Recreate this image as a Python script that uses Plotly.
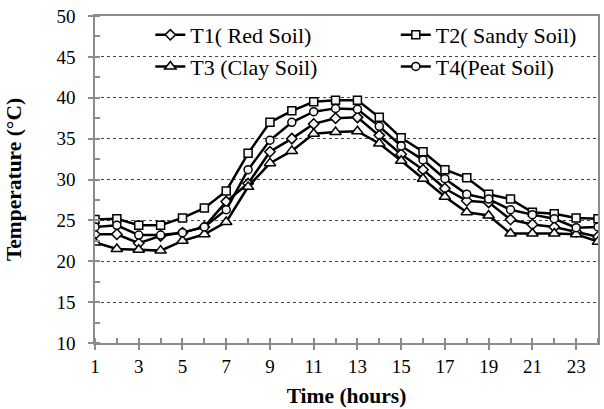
import plotly.graph_objects as go

hours = list(range(1, 25))
t1_red = [23.3, 23.3, 22.2, 23.1, 23.5, 24.2, 27.3, 29.5, 33.4, 35.0, 36.8, 37.5,
          37.6, 35.4, 33.1, 31.2, 28.9, 27.4, 27.2, 25.1, 24.5, 24.2, 23.6, 23.0]
t2_sandy = [25.1, 25.2, 24.4, 24.4, 25.3, 26.5, 28.6, 33.2, 37.0, 38.4, 39.5, 39.7,
            39.7, 37.6, 35.1, 33.4, 31.2, 30.2, 28.2, 27.6, 26.0, 25.8, 25.3, 25.2]
t3_clay = [22.3, 21.5, 21.4, 21.3, 22.5, 23.3, 24.8, 29.1, 32.0, 33.5, 35.6, 35.8,
           35.9, 34.4, 32.3, 30.1, 27.9, 26.0, 25.6, 23.4, 23.4, 23.4, 23.3, 22.4]
t4_peat = [24.2, 24.4, 23.2, 23.2, 23.5, 24.2, 26.3, 31.2, 34.8, 37.0, 38.3, 38.7,
           38.6, 36.5, 34.1, 32.4, 30.1, 28.2, 27.6, 26.3, 25.7, 25.2, 24.1, 24.2]

names = ["T1( Red Soil)", "T2( Sandy Soil)", "T3 (Clay Soil)", "T4(Peat Soil)"]
symbols = ["diamond", "square", "triangle-up", "circle"]
sizes = [8, 8, 10, 8]
legend_ids = ["legend", "legend2", "legend", "legend2"]
series = [t1_red, t2_sandy, t3_clay, t4_peat]

FONT = "Liberation Serif, Times New Roman, serif"

fig = go.Figure()
for name, sym, sz, lg, ys in zip(names, symbols, sizes, legend_ids, series):
    fig.add_trace(go.Scatter(
        x=hours, y=ys, name=name, mode="lines+markers", legend=lg,
        line=dict(color="black", width=2.5),
        marker=dict(symbol=sym, size=sz, color="#f4f4f4",
                    line=dict(color="black", width=1.5)),
    ))

legend_common = dict(
    orientation="v", yanchor="top", xanchor="left",
    bgcolor="rgba(0,0,0,0)", borderwidth=0,
    font=dict(family=FONT, size=22, color="black"),
    tracegroupgap=0,
)

fig.update_layout(
    width=604, height=409,
    margin=dict(l=95, r=4, t=16, b=66),
    paper_bgcolor="white", plot_bgcolor="white",
    font=dict(family=FONT, size=19, color="black"),
    showlegend=True,
    legend=dict(x=0.11, y=1.006, **legend_common),
    legend2=dict(x=0.598, y=1.006, **legend_common),
    xaxis=dict(
        range=[1, 24], tick0=1, dtick=2,
        showgrid=False, zeroline=False,
        showline=True, linecolor="#8c8c8c", linewidth=1.5, mirror=True,
        ticks="outside", ticklen=5, tickcolor="#8c8c8c", tickwidth=1.5,
        minor=dict(dtick=1, tick0=1, ticks="inside", ticklen=5,
                   tickcolor="#8c8c8c", tickwidth=1.5),
        tickfont=dict(family=FONT, size=19, color="black"),
        title=dict(text="<b>Time (hours)</b>", standoff=12,
                   font=dict(family=FONT, size=21.5, color="black")),
    ),
    yaxis=dict(
        range=[10, 50], tick0=10, dtick=5,
        showgrid=True, gridcolor="#444444", griddash="dot", gridwidth=1,
        zeroline=False,
        showline=True, linecolor="#8c8c8c", linewidth=1.5, mirror=True,
        ticks="outside", ticklen=5, tickcolor="#8c8c8c", tickwidth=1.5,
        ticklabelstandoff=9,
        minor=dict(dtick=2.5, tick0=10, ticks="inside", ticklen=5,
                   tickcolor="#8c8c8c", tickwidth=1.5, showgrid=False),
        tickfont=dict(family=FONT, size=19, color="black"),
        title=dict(text="<b>Temperature (°C)</b>", standoff=29,
                   font=dict(family=FONT, size=21.5, color="black")),
    ),
)

fig.write_html("out.html")
